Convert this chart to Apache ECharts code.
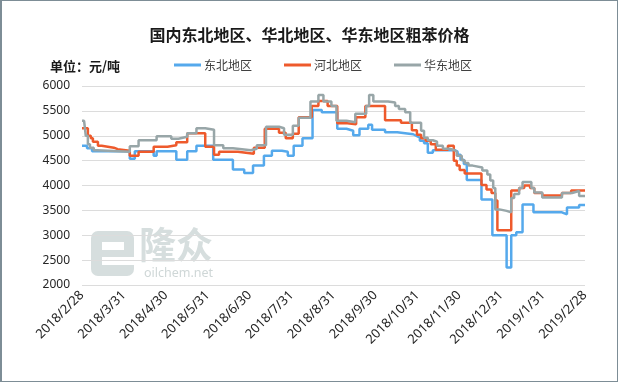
<!DOCTYPE html>
<html>
<head>
<meta charset="utf-8">
<script src="https://cdn.jsdelivr.net/npm/echarts@6/dist/echarts.min.js"></script>
<style>
html,body{margin:0;padding:0;background:#fff;}
#chart{width:618px;height:382px;box-sizing:border-box;border:1px solid #7d8d96;border-left-width:2px;}
</style>
</head>
<body>
<div id="chart"></div>
<script>
// x positions are in months after 2018/2/28 (0 = 2018/2/28, 12 = 2019/2/28)
const tickLabels = ['2018/2/28','2018/3/31','2018/4/30','2018/5/31','2018/6/30','2018/7/31','2018/8/31','2018/9/30','2018/10/31','2018/11/30','2018/12/31','2019/1/31','2019/2/28'];
const seriesNames = ['东北地区','河北地区','华东地区'];

// 东北地区 (change points)
const neMonth = [0,0.12,0.24,1.14,1.26,1.71,1.78,2.25,2.51,2.73,3.13,3.60,3.87,4.08,4.34,4.53,4.77,4.91,5.05,5.26,5.50,5.72,6.09,6.31,6.47,6.62,6.83,6.92,7.23,7.52,7.90,7.97,8.06,8.16,8.25,8.37,8.89,8.96,9.03,9.11,9.18,9.53,9.79,10.13,10.24,10.36,10.51,10.77,11.45,11.57,11.86,12.00];
const neValue = [4800,4750,4690,4540,4690,4600,4690,4520,4690,4800,4520,4320,4250,4400,4600,4700,4680,4600,4800,4950,5520,5470,5140,5100,5010,5140,5220,5120,5070,5030,5000,4960,4900,4850,4660,4710,4680,4620,4520,4430,4110,3720,3000,2350,3000,3060,3620,3460,3420,3560,3610,3610];

// 河北地区
const hbMonth = [0,0.14,0.21,0.26,0.38,0.47,0.76,0.85,1.14,1.35,1.71,2.04,2.25,2.51,2.94,3.15,3.27,3.72,4.10,4.36,4.70,4.86,5.03,5.17,5.48,5.64,5.86,6.09,6.33,6.54,6.76,7.23,7.61,7.87,7.99,8.09,8.20,8.32,8.44,8.73,8.87,8.94,9.01,9.13,9.53,9.65,9.77,9.86,9.91,10.24,10.43,10.55,10.69,10.79,10.98,11.45,11.67,12.00];
const hbValue = [5150,5000,4950,4880,4800,4760,4730,4700,4600,4680,4780,4810,4870,5050,4780,4620,4680,4640,4760,5140,5060,4950,5040,5370,5600,5700,5600,5250,5230,5370,5600,5310,5260,5110,5020,4950,4900,4830,4720,4800,4500,4400,4310,4240,4010,3920,3850,3700,3100,3900,3950,4000,3950,3850,3800,3850,3900,3900];

// 华东地区
const hdMonth = [0,0.05,0.09,0.14,0.19,0.28,0.36,1.14,1.35,1.78,2.13,2.30,2.51,2.73,2.94,3.15,3.37,3.60,4.03,4.17,4.39,4.70,4.82,5.03,5.17,5.45,5.64,5.76,5.95,6.07,6.31,6.52,6.78,6.85,6.95,7.30,7.47,7.56,7.71,7.83,8.09,8.16,8.25,8.37,8.47,8.61,8.77,8.89,8.94,9.06,9.13,9.22,9.32,9.55,9.67,9.74,9.81,9.86,9.96,10.13,10.24,10.31,10.43,10.51,10.72,10.79,10.98,11.45,11.69,11.86,12.00];
const hdValue = [5300,5270,5000,4830,4760,4710,4680,4790,4910,4990,4940,4980,5050,5150,5120,4810,4750,4710,4740,4810,5180,5150,5020,5200,5360,5690,5820,5690,5600,5300,5270,5440,5600,5820,5690,5670,5600,5540,5470,5260,5100,4960,4910,4880,4800,4740,4710,4680,4600,4510,4450,4400,4360,4300,4220,4100,3950,3520,3490,3460,3750,3830,3950,4070,3950,3860,3760,3850,3890,3790,3790];

const yTicks = {min:2000, max:6000, interval:500};
const colors = ['#55a9ec','#ee5a2c','#98a6a8'];

function zip(xs, ys){ return xs.map((x,i)=>[x, ys[i]]); }

const chart = echarts.init(document.getElementById('chart'), null, {renderer:'canvas'});
const FONT = '"Noto Sans CJK SC", "Noto Sans", sans-serif';
const NUMFONT = '"Noto Sans", sans-serif';

chart.setOption({
  animation:false,
  color: colors,
  title:{
    text:'国内东北地区、华北地区、华东地区粗苯价格',
    left:'center', top:21,
    textStyle:{fontSize:16, fontWeight:'bold', color:'#1a1a1a', fontFamily:FONT}
  },
  legend:{
    data: seriesNames,
    left:172, top:58, padding:0,
    icon:'rect', itemWidth:27, itemHeight:3, itemGap:32,
    textStyle:{fontSize:12, color:'#404040', fontFamily:FONT, padding:[0,0,0,-2]}
  },
  graphic:[
    {type:'text', left:48, top:59, style:{text:'单位：元/吨', font:'bold 13px "Noto Sans CJK SC"', fill:'#1a1a1a'}},
    {type:'rect', silent:true, z:-1, shape:{x:89,y:230,width:43,height:45,r:7}, style:{fill:'#d6dede'}},
    {type:'rect', silent:true, z:-1, shape:{x:100,y:241,width:22,height:8}, style:{fill:'#ffffff'}},
    {type:'rect', silent:true, z:-1, shape:{x:100,y:256,width:33,height:8}, style:{fill:'#ffffff'}},
    {type:'text', silent:true, z:-1, x:137, y:225, style:{text:'隆众', font:'bold 37px "Noto Sans CJK SC"', fill:'#d6dede'}},
    {type:'text', silent:true, z:-1, x:142, y:266, style:{text:'oilchem.net', font:'12.5px "Noto Sans"', fill:'#cfd7d7'}}
  ],
  grid:{left:80, right:32, top:85, bottom:96},
  xAxis:{
    type:'value', min:0, max:12, interval:1,
    axisLine:{show:false}, axisTick:{show:false}, splitLine:{show:false},
    axisLabel:{
      rotate:45, margin:8, fontSize:13, color:'#262626', fontFamily:NUMFONT,
      formatter:(v)=> tickLabels[Math.round(v)] || ''
    }
  },
  yAxis:{
    type:'value', min:yTicks.min, max:yTicks.max, interval:yTicks.interval,
    axisLine:{show:false}, axisTick:{show:false},
    splitLine:{lineStyle:{color:'#dcdcdc', width:1}},
    axisLabel:{fontSize:12, color:'#262626', fontFamily:NUMFONT, margin:12, formatter:(v)=>String(v)}
  },
  series:[
    {name:seriesNames[0], type:'line', step:'end', showSymbol:false, data:zip(neMonth, neValue), lineStyle:{width:2.5}, z:3},
    {name:seriesNames[1], type:'line', step:'end', showSymbol:false, data:zip(hbMonth, hbValue), lineStyle:{width:2.5}, z:4},
    {name:seriesNames[2], type:'line', step:'end', showSymbol:false, data:zip(hdMonth, hdValue), lineStyle:{width:2.5}, z:5}
  ]
});
</script>
</body>
</html>
